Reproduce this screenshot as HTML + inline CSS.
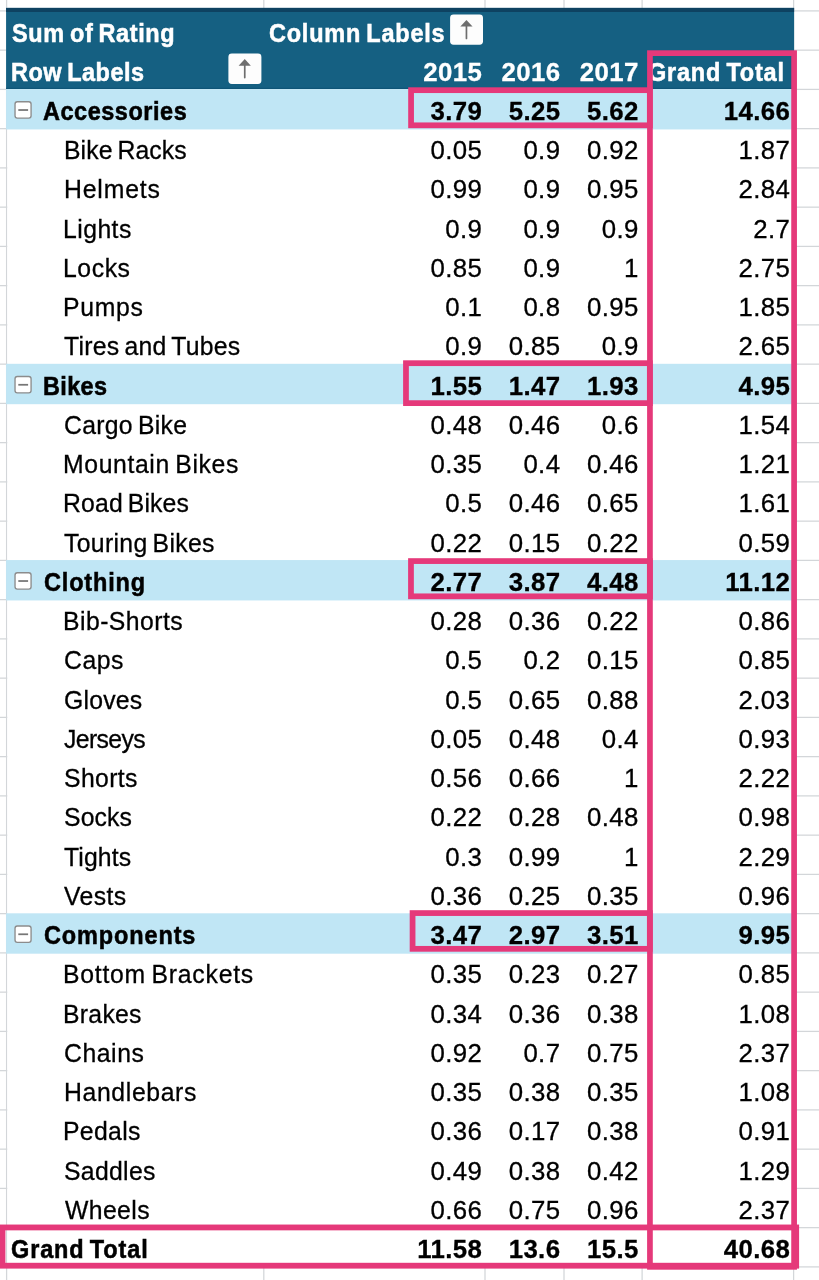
<!DOCTYPE html><html><head><meta charset="utf-8"><title>Pivot</title><style>
html,body{margin:0;padding:0;background:#fff}
body{width:819px;height:1280px;position:relative;overflow:hidden;font-family:"Liberation Sans",Arial,sans-serif;font-size:25.8px;color:#000}
.a{position:absolute}
.t{position:absolute;white-space:nowrap;word-spacing:-2.2px;line-height:28px;transform-origin:0 0}
.n{position:absolute;white-space:nowrap;line-height:28px;font-size:25.8px;text-align:right;transform-origin:100% 0}
.t,.n{-webkit-text-stroke:0.3px currentColor}
.t.b{-webkit-text-stroke:0.55px currentColor}
.b{font-weight:bold}
.w{color:#fff}

</style></head><body>
<svg class="a" style="left:0;top:0" width="819" height="1280" viewBox="0 0 819 1280" shape-rendering="geometricPrecision"><rect x="0.00" y="10.28" width="819.00" height="1.25" fill="#d3d6d9"/><rect x="0.00" y="49.52" width="819.00" height="1.25" fill="#d3d6d9"/><rect x="0.00" y="88.78" width="819.00" height="1.25" fill="#d3d6d9"/><rect x="0.00" y="128.03" width="819.00" height="1.25" fill="#d3d6d9"/><rect x="0.00" y="167.28" width="819.00" height="1.25" fill="#d3d6d9"/><rect x="0.00" y="206.53" width="819.00" height="1.25" fill="#d3d6d9"/><rect x="0.00" y="245.78" width="819.00" height="1.25" fill="#d3d6d9"/><rect x="0.00" y="285.02" width="819.00" height="1.25" fill="#d3d6d9"/><rect x="0.00" y="324.27" width="819.00" height="1.25" fill="#d3d6d9"/><rect x="0.00" y="363.52" width="819.00" height="1.25" fill="#d3d6d9"/><rect x="0.00" y="402.77" width="819.00" height="1.25" fill="#d3d6d9"/><rect x="0.00" y="442.02" width="819.00" height="1.25" fill="#d3d6d9"/><rect x="0.00" y="481.27" width="819.00" height="1.25" fill="#d3d6d9"/><rect x="0.00" y="520.52" width="819.00" height="1.25" fill="#d3d6d9"/><rect x="0.00" y="559.77" width="819.00" height="1.25" fill="#d3d6d9"/><rect x="0.00" y="599.02" width="819.00" height="1.25" fill="#d3d6d9"/><rect x="0.00" y="638.27" width="819.00" height="1.25" fill="#d3d6d9"/><rect x="0.00" y="677.52" width="819.00" height="1.25" fill="#d3d6d9"/><rect x="0.00" y="716.77" width="819.00" height="1.25" fill="#d3d6d9"/><rect x="0.00" y="756.02" width="819.00" height="1.25" fill="#d3d6d9"/><rect x="0.00" y="795.27" width="819.00" height="1.25" fill="#d3d6d9"/><rect x="0.00" y="834.52" width="819.00" height="1.25" fill="#d3d6d9"/><rect x="0.00" y="873.77" width="819.00" height="1.25" fill="#d3d6d9"/><rect x="0.00" y="913.02" width="819.00" height="1.25" fill="#d3d6d9"/><rect x="0.00" y="952.27" width="819.00" height="1.25" fill="#d3d6d9"/><rect x="0.00" y="991.52" width="819.00" height="1.25" fill="#d3d6d9"/><rect x="0.00" y="1030.78" width="819.00" height="1.25" fill="#d3d6d9"/><rect x="0.00" y="1070.03" width="819.00" height="1.25" fill="#d3d6d9"/><rect x="0.00" y="1109.28" width="819.00" height="1.25" fill="#d3d6d9"/><rect x="0.00" y="1148.53" width="819.00" height="1.25" fill="#d3d6d9"/><rect x="0.00" y="1187.78" width="819.00" height="1.25" fill="#d3d6d9"/><rect x="0.00" y="1227.03" width="819.00" height="1.25" fill="#d3d6d9"/><rect x="0.00" y="1266.28" width="819.00" height="1.25" fill="#d3d6d9"/><rect x="0.00" y="1305.53" width="819.00" height="1.25" fill="#d3d6d9"/><rect x="5.97" y="0.00" width="1.25" height="1280.00" fill="#d3d6d9"/><rect x="263.18" y="0.00" width="1.25" height="1280.00" fill="#d3d6d9"/><rect x="484.38" y="0.00" width="1.25" height="1280.00" fill="#d3d6d9"/><rect x="563.38" y="0.00" width="1.25" height="1280.00" fill="#d3d6d9"/><rect x="641.48" y="0.00" width="1.25" height="1280.00" fill="#d3d6d9"/><rect x="792.98" y="0.00" width="1.25" height="1280.00" fill="#d3d6d9"/><rect x="7.30" y="89.25" width="786.90" height="1177.10" fill="#fff"/><rect x="6.10" y="7.90" width="788.00" height="81.15" fill="#156082"/><rect x="6.10" y="7.90" width="788.00" height="4.10" fill="#0e4261"/><rect x="6.10" y="87.80" width="788.00" height="1.25" fill="#0f5577"/><rect x="6.10" y="89.05" width="788.00" height="40.40" fill="#c0e6f5"/><rect x="6.10" y="363.80" width="788.00" height="40.40" fill="#c0e6f5"/><rect x="6.10" y="560.05" width="788.00" height="40.40" fill="#c0e6f5"/><rect x="6.10" y="913.30" width="788.00" height="40.40" fill="#c0e6f5"/><rect x="228.40" y="53.60" width="33.00" height="30.40" rx="3.4" fill="#fdfdfd"/><path d="M244.75 61.60V77.60" stroke="#6e6e6e" stroke-width="1.7" stroke-linecap="round" fill="none"/><path d="M238.65 65.70L244.75 59.10L250.85 65.70Z" fill="#6e6e6e"/><rect x="450.10" y="14.50" width="32.90" height="30.20" rx="3.4" fill="#fdfdfd"/><path d="M466.45 22.50V38.50" stroke="#6e6e6e" stroke-width="1.7" stroke-linecap="round" fill="none"/><path d="M460.35 26.60L466.45 20.00L472.55 26.60Z" fill="#6e6e6e"/><rect x="15.03" y="101.72" width="16.05" height="16.35" rx="2.3" fill="#fff" stroke="#8c8c8c" stroke-width="1.35"/><rect x="18.3" y="109.15" width="9.8" height="1.75" fill="#767676"/><rect x="15.03" y="376.48" width="16.05" height="16.35" rx="2.3" fill="#fff" stroke="#8c8c8c" stroke-width="1.35"/><rect x="18.3" y="383.90" width="9.8" height="1.75" fill="#767676"/><rect x="15.03" y="572.72" width="16.05" height="16.35" rx="2.3" fill="#fff" stroke="#8c8c8c" stroke-width="1.35"/><rect x="18.3" y="580.15" width="9.8" height="1.75" fill="#767676"/><rect x="15.03" y="925.97" width="16.05" height="16.35" rx="2.3" fill="#fff" stroke="#8c8c8c" stroke-width="1.35"/><rect x="18.3" y="933.40" width="9.8" height="1.75" fill="#767676"/></svg>
<div class="t b w" style="left:11.54px;top:19.00px;transform:scaleX(0.9100);letter-spacing:0.693px;">Sum of Rating</div>
<div class="t b w" style="left:268.72px;top:19.00px;transform:scaleX(0.9100);letter-spacing:0.857px;">Column Labels</div>
<div class="t b w" style="left:11.24px;top:58.00px;transform:scaleX(0.9100);letter-spacing:0.578px;">Row Labels</div>
<div class="n b w" style="right:336.82px;top:58.00px;letter-spacing:0.38px">2015</div>
<div class="n b w" style="right:258.62px;top:58.00px;letter-spacing:0.38px">2016</div>
<div class="n b w" style="right:180.32px;top:58.00px;letter-spacing:0.38px">2017</div>
<div class="t b w" style="left:648.02px;top:58.00px;transform:scaleX(0.9100);letter-spacing:0.878px;">Grand Total</div>
<div class="t b" style="left:43.17px;top:97.00px;transform:scaleX(0.9100);letter-spacing:0.592px;">Accessories</div>
<div class="n b" style="right:336.82px;top:97.00px;letter-spacing:0.38px">3.79</div>
<div class="n b" style="right:258.62px;top:97.00px;letter-spacing:0.38px">5.25</div>
<div class="n b" style="right:180.32px;top:97.00px;letter-spacing:0.38px">5.62</div>
<div class="n b" style="right:28.72px;top:97.00px;letter-spacing:0.38px">14.66</div>
<div class="t " style="left:63.88px;top:136.00px;transform:scaleX(0.9600);letter-spacing:0.111px;">Bike Racks</div>
<div class="n " style="right:336.82px;top:136.00px;letter-spacing:0.38px">0.05</div>
<div class="n " style="right:258.62px;top:136.00px;letter-spacing:0.38px">0.9</div>
<div class="n " style="right:180.32px;top:136.00px;letter-spacing:0.38px">0.92</div>
<div class="n " style="right:28.72px;top:136.00px;letter-spacing:0.38px">1.87</div>
<div class="t " style="left:64.18px;top:175.00px;transform:scaleX(0.9600);letter-spacing:0.889px;">Helmets</div>
<div class="n " style="right:336.82px;top:175.00px;letter-spacing:0.38px">0.99</div>
<div class="n " style="right:258.62px;top:175.00px;letter-spacing:0.38px">0.9</div>
<div class="n " style="right:180.32px;top:175.00px;letter-spacing:0.38px">0.95</div>
<div class="n " style="right:28.72px;top:175.00px;letter-spacing:0.38px">2.84</div>
<div class="t " style="left:63.28px;top:215.00px;transform:scaleX(0.9600);letter-spacing:0.467px;">Lights</div>
<div class="n " style="right:336.82px;top:215.00px;letter-spacing:0.38px">0.9</div>
<div class="n " style="right:258.62px;top:215.00px;letter-spacing:0.38px">0.9</div>
<div class="n " style="right:180.32px;top:215.00px;letter-spacing:0.38px">0.9</div>
<div class="n " style="right:28.72px;top:215.00px;letter-spacing:0.38px">2.7</div>
<div class="t " style="left:63.28px;top:254.00px;transform:scaleX(0.9600);letter-spacing:0.594px;">Locks</div>
<div class="n " style="right:336.82px;top:254.00px;letter-spacing:0.38px">0.85</div>
<div class="n " style="right:258.62px;top:254.00px;letter-spacing:0.38px">0.9</div>
<div class="n " style="right:180.32px;top:254.00px;letter-spacing:0.38px">1</div>
<div class="n " style="right:28.72px;top:254.00px;letter-spacing:0.38px">2.75</div>
<div class="t " style="left:63.28px;top:293.00px;transform:scaleX(0.9600);letter-spacing:0.703px;">Pumps</div>
<div class="n " style="right:336.82px;top:293.00px;letter-spacing:0.38px">0.1</div>
<div class="n " style="right:258.62px;top:293.00px;letter-spacing:0.38px">0.8</div>
<div class="n " style="right:180.32px;top:293.00px;letter-spacing:0.38px">0.95</div>
<div class="n " style="right:28.72px;top:293.00px;letter-spacing:0.38px">1.85</div>
<div class="t " style="left:63.92px;top:332.00px;transform:scaleX(0.9600);letter-spacing:0.281px;">Tires and Tubes</div>
<div class="n " style="right:336.82px;top:332.00px;letter-spacing:0.38px">0.9</div>
<div class="n " style="right:258.62px;top:332.00px;letter-spacing:0.38px">0.85</div>
<div class="n " style="right:180.32px;top:332.00px;letter-spacing:0.38px">0.9</div>
<div class="n " style="right:28.72px;top:332.00px;letter-spacing:0.38px">2.65</div>
<div class="t b" style="left:42.93px;top:372.00px;transform:scaleX(0.9100);letter-spacing:0.380px;">Bikes</div>
<div class="n b" style="right:336.82px;top:372.00px;letter-spacing:0.38px">1.55</div>
<div class="n b" style="right:258.62px;top:372.00px;letter-spacing:0.38px">1.47</div>
<div class="n b" style="right:180.32px;top:372.00px;letter-spacing:0.38px">1.93</div>
<div class="n b" style="right:28.72px;top:372.00px;letter-spacing:0.38px">4.95</div>
<div class="t " style="left:63.50px;top:411.00px;transform:scaleX(0.9600);letter-spacing:0.299px;">Cargo Bike</div>
<div class="n " style="right:336.82px;top:411.00px;letter-spacing:0.38px">0.48</div>
<div class="n " style="right:258.62px;top:411.00px;letter-spacing:0.38px">0.46</div>
<div class="n " style="right:180.32px;top:411.00px;letter-spacing:0.38px">0.6</div>
<div class="n " style="right:28.72px;top:411.00px;letter-spacing:0.38px">1.54</div>
<div class="t " style="left:63.28px;top:450.00px;transform:scaleX(0.9600);letter-spacing:0.649px;">Mountain Bikes</div>
<div class="n " style="right:336.82px;top:450.00px;letter-spacing:0.38px">0.35</div>
<div class="n " style="right:258.62px;top:450.00px;letter-spacing:0.38px">0.4</div>
<div class="n " style="right:180.32px;top:450.00px;letter-spacing:0.38px">0.46</div>
<div class="n " style="right:28.72px;top:450.00px;letter-spacing:0.38px">1.21</div>
<div class="t " style="left:63.28px;top:489.00px;transform:scaleX(0.9600);letter-spacing:0.160px;">Road Bikes</div>
<div class="n " style="right:336.82px;top:489.00px;letter-spacing:0.38px">0.5</div>
<div class="n " style="right:258.62px;top:489.00px;letter-spacing:0.38px">0.46</div>
<div class="n " style="right:180.32px;top:489.00px;letter-spacing:0.38px">0.65</div>
<div class="n " style="right:28.72px;top:489.00px;letter-spacing:0.38px">1.61</div>
<div class="t " style="left:63.92px;top:529.00px;transform:scaleX(0.9600);letter-spacing:0.339px;">Touring Bikes</div>
<div class="n " style="right:336.82px;top:529.00px;letter-spacing:0.38px">0.22</div>
<div class="n " style="right:258.62px;top:529.00px;letter-spacing:0.38px">0.15</div>
<div class="n " style="right:180.32px;top:529.00px;letter-spacing:0.38px">0.22</div>
<div class="n " style="right:28.72px;top:529.00px;letter-spacing:0.38px">0.59</div>
<div class="t b" style="left:43.62px;top:568.00px;transform:scaleX(0.9100);letter-spacing:0.919px;">Clothing</div>
<div class="n b" style="right:336.82px;top:568.00px;letter-spacing:0.38px">2.77</div>
<div class="n b" style="right:258.62px;top:568.00px;letter-spacing:0.38px">3.87</div>
<div class="n b" style="right:180.32px;top:568.00px;letter-spacing:0.38px">4.48</div>
<div class="n b" style="right:28.72px;top:568.00px;letter-spacing:0.38px">11.12</div>
<div class="t " style="left:63.28px;top:607.00px;transform:scaleX(0.9600);letter-spacing:0.470px;">Bib-Shorts</div>
<div class="n " style="right:336.82px;top:607.00px;letter-spacing:0.38px">0.28</div>
<div class="n " style="right:258.62px;top:607.00px;letter-spacing:0.38px">0.36</div>
<div class="n " style="right:180.32px;top:607.00px;letter-spacing:0.38px">0.22</div>
<div class="n " style="right:28.72px;top:607.00px;letter-spacing:0.38px">0.86</div>
<div class="t " style="left:63.50px;top:646.00px;transform:scaleX(0.9600);letter-spacing:0.549px;">Caps</div>
<div class="n " style="right:336.82px;top:646.00px;letter-spacing:0.38px">0.5</div>
<div class="n " style="right:258.62px;top:646.00px;letter-spacing:0.38px">0.2</div>
<div class="n " style="right:180.32px;top:646.00px;letter-spacing:0.38px">0.15</div>
<div class="n " style="right:28.72px;top:646.00px;letter-spacing:0.38px">0.85</div>
<div class="t " style="left:63.50px;top:686.00px;transform:scaleX(0.9600);letter-spacing:0.246px;">Gloves</div>
<div class="n " style="right:336.82px;top:686.00px;letter-spacing:0.38px">0.5</div>
<div class="n " style="right:258.62px;top:686.00px;letter-spacing:0.38px">0.65</div>
<div class="n " style="right:180.32px;top:686.00px;letter-spacing:0.38px">0.88</div>
<div class="n " style="right:28.72px;top:686.00px;letter-spacing:0.38px">2.03</div>
<div class="t " style="left:64.16px;top:725.00px;transform:scaleX(0.9600);letter-spacing:-0.632px;">Jerseys</div>
<div class="n " style="right:336.82px;top:725.00px;letter-spacing:0.38px">0.05</div>
<div class="n " style="right:258.62px;top:725.00px;letter-spacing:0.38px">0.48</div>
<div class="n " style="right:180.32px;top:725.00px;letter-spacing:0.38px">0.4</div>
<div class="n " style="right:28.72px;top:725.00px;letter-spacing:0.38px">0.93</div>
<div class="t " style="left:63.74px;top:764.00px;transform:scaleX(0.9600);letter-spacing:0.388px;">Shorts</div>
<div class="n " style="right:336.82px;top:764.00px;letter-spacing:0.38px">0.56</div>
<div class="n " style="right:258.62px;top:764.00px;letter-spacing:0.38px">0.66</div>
<div class="n " style="right:180.32px;top:764.00px;letter-spacing:0.38px">1</div>
<div class="n " style="right:28.72px;top:764.00px;letter-spacing:0.38px">2.22</div>
<div class="t " style="left:63.74px;top:803.00px;transform:scaleX(0.9600);letter-spacing:0.141px;">Socks</div>
<div class="n " style="right:336.82px;top:803.00px;letter-spacing:0.38px">0.22</div>
<div class="n " style="right:258.62px;top:803.00px;letter-spacing:0.38px">0.28</div>
<div class="n " style="right:180.32px;top:803.00px;letter-spacing:0.38px">0.48</div>
<div class="n " style="right:28.72px;top:803.00px;letter-spacing:0.38px">0.98</div>
<div class="t " style="left:63.92px;top:843.00px;transform:scaleX(0.9600);letter-spacing:0.108px;">Tights</div>
<div class="n " style="right:336.82px;top:843.00px;letter-spacing:0.38px">0.3</div>
<div class="n " style="right:258.62px;top:843.00px;letter-spacing:0.38px">0.99</div>
<div class="n " style="right:180.32px;top:843.00px;letter-spacing:0.38px">1</div>
<div class="n " style="right:28.72px;top:843.00px;letter-spacing:0.38px">2.29</div>
<div class="t " style="left:64.40px;top:882.00px;transform:scaleX(0.9600);letter-spacing:0.375px;">Vests</div>
<div class="n " style="right:336.82px;top:882.00px;letter-spacing:0.38px">0.36</div>
<div class="n " style="right:258.62px;top:882.00px;letter-spacing:0.38px">0.25</div>
<div class="n " style="right:180.32px;top:882.00px;letter-spacing:0.38px">0.35</div>
<div class="n " style="right:28.72px;top:882.00px;letter-spacing:0.38px">0.96</div>
<div class="t b" style="left:43.62px;top:921.00px;transform:scaleX(0.9100);letter-spacing:0.969px;">Components</div>
<div class="n b" style="right:336.82px;top:921.00px;letter-spacing:0.38px">3.47</div>
<div class="n b" style="right:258.62px;top:921.00px;letter-spacing:0.38px">2.97</div>
<div class="n b" style="right:180.32px;top:921.00px;letter-spacing:0.38px">3.51</div>
<div class="n b" style="right:28.72px;top:921.00px;letter-spacing:0.38px">9.95</div>
<div class="t " style="left:63.28px;top:960.00px;transform:scaleX(0.9600);letter-spacing:0.790px;">Bottom Brackets</div>
<div class="n " style="right:336.82px;top:960.00px;letter-spacing:0.38px">0.35</div>
<div class="n " style="right:258.62px;top:960.00px;letter-spacing:0.38px">0.23</div>
<div class="n " style="right:180.32px;top:960.00px;letter-spacing:0.38px">0.27</div>
<div class="n " style="right:28.72px;top:960.00px;letter-spacing:0.38px">0.85</div>
<div class="t " style="left:63.28px;top:1000.00px;transform:scaleX(0.9600);letter-spacing:0.292px;">Brakes</div>
<div class="n " style="right:336.82px;top:1000.00px;letter-spacing:0.38px">0.34</div>
<div class="n " style="right:258.62px;top:1000.00px;letter-spacing:0.38px">0.36</div>
<div class="n " style="right:180.32px;top:1000.00px;letter-spacing:0.38px">0.38</div>
<div class="n " style="right:28.72px;top:1000.00px;letter-spacing:0.38px">1.08</div>
<div class="t " style="left:63.70px;top:1039.00px;transform:scaleX(0.9600);letter-spacing:0.579px;">Chains</div>
<div class="n " style="right:336.82px;top:1039.00px;letter-spacing:0.38px">0.92</div>
<div class="n " style="right:258.62px;top:1039.00px;letter-spacing:0.38px">0.7</div>
<div class="n " style="right:180.32px;top:1039.00px;letter-spacing:0.38px">0.75</div>
<div class="n " style="right:28.72px;top:1039.00px;letter-spacing:0.38px">2.37</div>
<div class="t " style="left:63.78px;top:1078.00px;transform:scaleX(0.9600);letter-spacing:0.662px;">Handlebars</div>
<div class="n " style="right:336.82px;top:1078.00px;letter-spacing:0.38px">0.35</div>
<div class="n " style="right:258.62px;top:1078.00px;letter-spacing:0.38px">0.38</div>
<div class="n " style="right:180.32px;top:1078.00px;letter-spacing:0.38px">0.35</div>
<div class="n " style="right:28.72px;top:1078.00px;letter-spacing:0.38px">1.08</div>
<div class="t " style="left:63.38px;top:1117.00px;transform:scaleX(0.9600);letter-spacing:0.362px;">Pedals</div>
<div class="n " style="right:336.82px;top:1117.00px;letter-spacing:0.38px">0.36</div>
<div class="n " style="right:258.62px;top:1117.00px;letter-spacing:0.38px">0.17</div>
<div class="n " style="right:180.32px;top:1117.00px;letter-spacing:0.38px">0.38</div>
<div class="n " style="right:28.72px;top:1117.00px;letter-spacing:0.38px">0.91</div>
<div class="t " style="left:63.84px;top:1157.00px;transform:scaleX(0.9600);letter-spacing:0.323px;">Saddles</div>
<div class="n " style="right:336.82px;top:1157.00px;letter-spacing:0.38px">0.49</div>
<div class="n " style="right:258.62px;top:1157.00px;letter-spacing:0.38px">0.38</div>
<div class="n " style="right:180.32px;top:1157.00px;letter-spacing:0.38px">0.42</div>
<div class="n " style="right:28.72px;top:1157.00px;letter-spacing:0.38px">1.29</div>
<div class="t " style="left:64.50px;top:1196.00px;transform:scaleX(0.9600);letter-spacing:0.408px;">Wheels</div>
<div class="n " style="right:336.82px;top:1196.00px;letter-spacing:0.38px">0.66</div>
<div class="n " style="right:258.62px;top:1196.00px;letter-spacing:0.38px">0.75</div>
<div class="n " style="right:180.32px;top:1196.00px;letter-spacing:0.38px">0.96</div>
<div class="n " style="right:28.72px;top:1196.00px;letter-spacing:0.38px">2.37</div>
<div class="t b" style="left:11.42px;top:1235.00px;transform:scaleX(0.9100);letter-spacing:0.955px;">Grand Total</div>
<div class="n b" style="right:336.82px;top:1235.00px;letter-spacing:0.38px">11.58</div>
<div class="n b" style="right:258.62px;top:1235.00px;letter-spacing:0.38px">13.6</div>
<div class="n b" style="right:180.32px;top:1235.00px;letter-spacing:0.38px">15.5</div>
<div class="n b" style="right:28.72px;top:1235.00px;letter-spacing:0.38px">40.68</div>
<svg class="a" style="left:0;top:0" width="819" height="1280" viewBox="0 0 819 1280"><g fill="none" stroke="#e5397a" stroke-linejoin="miter"><rect x="411.07" y="90.17" width="238.75" height="35.15" stroke-width="5.75"/><rect x="405.98" y="363.18" width="243.85" height="39.95" stroke-width="5.75"/><rect x="410.98" y="561.08" width="238.85" height="35.25" stroke-width="5.75"/><rect x="412.57" y="913.08" width="237.25" height="35.75" stroke-width="5.75"/><rect x="649.95" y="53.15" width="144.15" height="1213.70" stroke-width="5.70"/><rect x="2.50" y="1227.45" width="793.70" height="38.25" stroke-width="5.80"/></g></svg>
</body></html>
